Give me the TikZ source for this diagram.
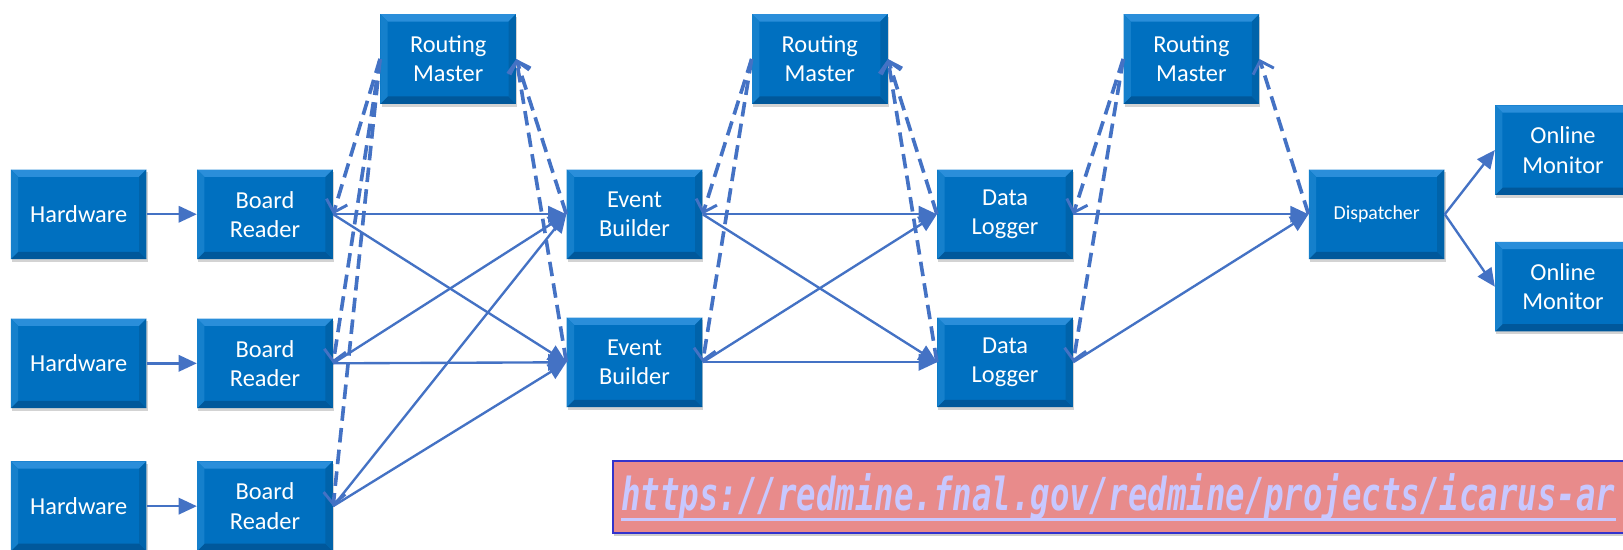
\documentclass[tikz,border=0pt]{standalone}
\usepackage{fontspec}
\setmainfont{Carlito}
\newfontfamily\urlfont[FakeStretch=0.712]{DejaVu Sans Mono}
\usepackage{tikz}
\usetikzlibrary{arrows.meta, shadows}

\definecolor{boxblue}{HTML}{0070C0}
\definecolor{boxtop}{HTML}{2A8EDA}
\definecolor{boxleft}{HTML}{1580CC}
\definecolor{boxright}{HTML}{0063AA}
\definecolor{boxbottom}{HTML}{00589B}
\definecolor{linkblue}{HTML}{4472C4}
\definecolor{linkpink}{HTML}{E88B8B}
\definecolor{linkedge}{HTML}{3333CC}
\definecolor{linkfg}{HTML}{C8C8FF}

% bevelled edges of the blue blocks
\newcommand{\boxbevel}{%
  \fill[boxtop] (path picture bounding box.north west) -- (path picture bounding box.north east)
    -- ([xshift=-4pt,yshift=-4pt]path picture bounding box.north east)
    -- ([xshift=4pt,yshift=-4pt]path picture bounding box.north west) -- cycle;
  \fill[boxbottom] (path picture bounding box.south west) -- (path picture bounding box.south east)
    -- ([xshift=-4pt,yshift=4pt]path picture bounding box.south east)
    -- ([xshift=4pt,yshift=4pt]path picture bounding box.south west) -- cycle;
  \fill[boxleft] (path picture bounding box.north west) -- (path picture bounding box.south west)
    -- ([xshift=4pt,yshift=4pt]path picture bounding box.south west)
    -- ([xshift=4pt,yshift=-4pt]path picture bounding box.north west) -- cycle;
  \fill[boxright] (path picture bounding box.north east) -- (path picture bounding box.south east)
    -- ([xshift=-4pt,yshift=4pt]path picture bounding box.south east)
    -- ([xshift=-4pt,yshift=-4pt]path picture bounding box.north east) -- cycle;
}

\begin{document}
\begin{tikzpicture}[
		x=0.02cm, y=-0.02cm,
		block/.style={rectangle, fill=boxblue, inner sep=0pt,
			minimum width=2.62cm, minimum height=1.73cm,
			text=white, align=center, font=\fontsize{13.4}{16}\selectfont,
			drop shadow={shadow xshift=0.6pt, shadow yshift=-1.6pt, opacity=0.35},
			path picture={\boxbevel}},
		flow/.style={draw=linkblue, line width=1.3pt, -{Triangle[length=10pt,width=9pt]}},
		token/.style={draw=linkblue, line width=2pt, dash pattern=on 8pt off 4pt,
			-{Straight Barb[length=6pt,width=12pt,line width=1.6pt]}}]
		\useasboundingbox (0,0) rectangle (1568,531);
		\clip (0,0) rectangle (1568,531);
		\node[block] (hw1) at (76,207)  {Hardware};
		\node[block] (hw2) at (76,351)  {Hardware};
		\node[block] (hw3) at (76,489)  {Hardware};
		\node[block] (br1) at (256,207) {Board\\Reader};
		\node[block] (br2) at (256,351) {Board\\Reader};
		\node[block] (br3) at (256,489) {Board\\Reader};
		\node[block] (rm1) at (433,57)  {Routing\\Master};
		\node[block] (rm2) at (792,57)  {Routing\\Master};
		\node[block] (rm3) at (1151,57) {Routing\\Master};
		\node[block] (eb1) at (613,207) {Event\\Builder};
		\node[block] (eb2) at (613,350) {Event\\Builder};
		\node[block] (dl1) at (971,207) {Data\\Logger};
		\node[block] (dl2) at (971,350) {Data\\Logger};
		\node[block, font=\fontsize{10.9}{13}\selectfont] (disp) at (1330,207) {Dispatcher};
		\node[block] (om1) at (1510,145) {Online\\Monitor};
		\node[block] (om2) at (1510,277) {Online\\Monitor};
		% data flow
		\draw[flow] (hw1.east) -- (br1.west);
		\draw[flow] (hw2.east) -- (br2.west);
		\draw[flow] (hw3.east) -- (br3.west);
		\draw[flow] (br1.east) -- (eb1.west);
		\draw[flow] (br1.east) -- (eb2.west);
		\draw[flow] (br2.east) -- (eb1.west);
		\draw[flow] (br2.east) -- (eb2.west);
		\draw[flow] (br3.east) -- (eb1.west);
		\draw[flow] (br3.east) -- (eb2.west);
		\draw[flow] (eb1.east) -- (dl1.west);
		\draw[flow] (eb1.east) -- (dl2.west);
		\draw[flow] (eb2.east) -- (dl1.west);
		\draw[flow] (eb2.east) -- (dl2.west);
		\draw[flow] (dl1.east) -- (disp.west);
		\draw[flow] (dl2.east) -- (disp.west);
		\draw[flow] (disp.east) -- (om1.west);
		\draw[flow] (disp.east) -- (om2.west);
		% routing tokens
		\draw[token] (rm1.west) -- (br1.east);
		\draw[token] (rm1.west) -- (br2.east);
		\draw[token] (rm1.west) -- (br3.east);
		\draw[token] (eb1.west) -- (rm1.east);
		\draw[token] (eb2.west) -- (rm1.east);
		\draw[token] (rm2.west) -- (eb1.east);
		\draw[token] (rm2.west) -- (eb2.east);
		\draw[token] (dl1.west) -- (rm2.east);
		\draw[token] (dl2.west) -- (rm2.east);
		\draw[token] (rm3.west) -- (dl1.east);
		\draw[token] (rm3.west) -- (dl2.east);
		\draw[token] (disp.west) -- (rm3.east);
		% link banner
		\node[rectangle, fill=linkpink, draw=linkedge, line width=1.1pt, anchor=west,
			minimum width=21cm, minimum height=1.38cm,
			drop shadow={shadow xshift=0.8pt, shadow yshift=-1.8pt, opacity=0.4}] (banner) at (591,480) {};
		\node[anchor=base west, inner sep=0pt, text=linkfg,
			font=\urlfont\fontsize{25}{30}\selectfont\bfseries\itshape] (link) at (600,493)
			{https://redmine.fnal.gov/redmine/projects/icarus-ar};
		\draw[linkfg, line width=1.4pt] ([yshift=-5pt]link.base west) -- ([yshift=-5pt]link.base east);
\end{tikzpicture}
\end{document}
